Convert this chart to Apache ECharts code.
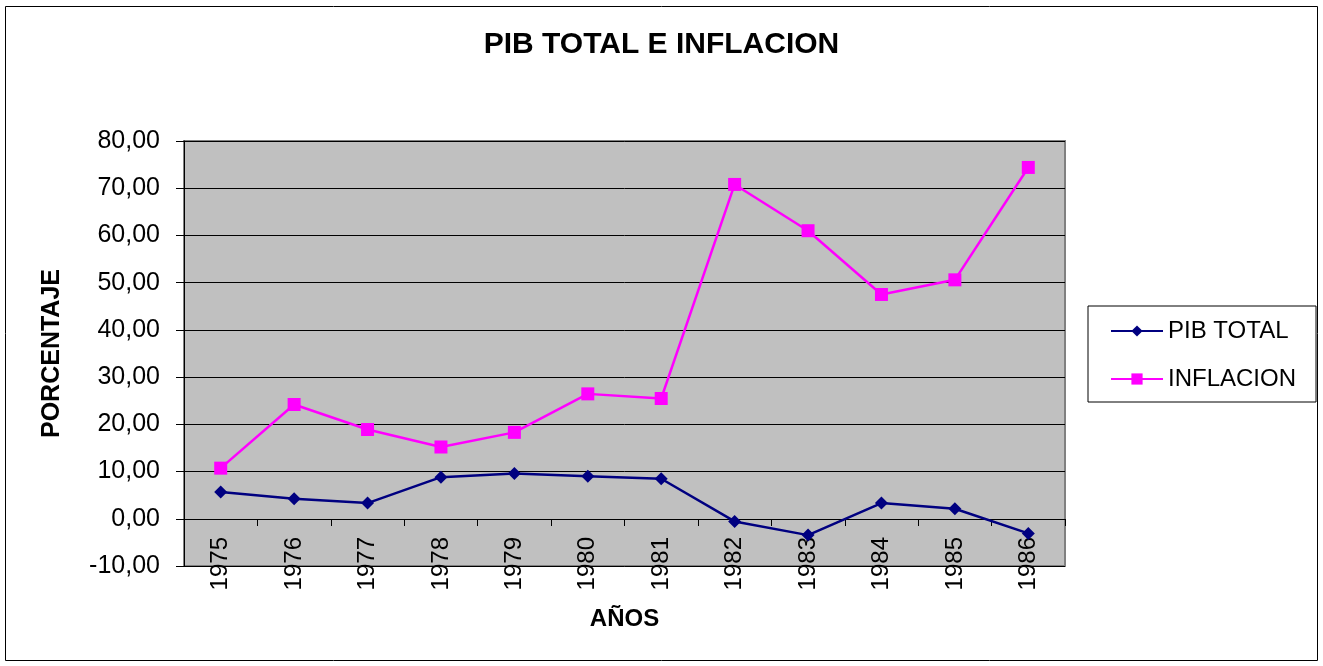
<!DOCTYPE html>
<html>
<head>
<meta charset="utf-8">
<title>PIB TOTAL E INFLACION</title>
<script src="https://cdn.jsdelivr.net/npm/echarts@6/dist/echarts.min.js"></script>
<style>
  html, body { margin: 0; padding: 0; background: #ffffff; }
  #chart { width: 1323px; height: 666px; }
</style>
</head>
<body>
<div id="chart"></div>
<script>
  // datos
  const years = ['1975', '1976', '1977', '1978', '1979', '1980', '1981', '1982', '1983', '1984', '1985', '1986'];
  const pibTotal = [5.65, 4.23, 3.32, 8.82, 9.6, 9.03, 8.47, -0.56, -3.46, 3.32, 2.12, -3.1];
  const inflacion = [10.72, 24.2, 18.9, 15.2, 18.3, 26.45, 25.47, 70.8, 61.0, 47.5, 50.6, 74.4];
  const yTicks = [-10, 0, 10, 20, 30, 40, 50, 60, 70, 80];

  const fontName = 'Arial, "Liberation Sans", sans-serif';
  const chart = echarts.init(document.getElementById('chart'));

  chart.setOption({
    animation: false,
    title: {
      text: 'PIB TOTAL E INFLACION',
      left: 'center',
      top: 25,
      textStyle: {
        color: '#000',
        fontFamily: fontName,
        fontWeight: 'bold',
        fontSize: 30
      }
    },
    graphic: [{
      type: 'rect',
      shape: { x: 5.5, y: 6.5, width: 1312, height: 654 },
      style: { fill: 'none', stroke: '#000', lineWidth: 1 },
      silent: true
    }],
    legend: {
      orient: 'vertical',
      left: 1088,
      top: 306,
      padding: [13, 20, 11, 22],
      itemGap: 24,
      itemWidth: 52,
      itemHeight: 14,
      borderColor: '#000',
      borderWidth: 1,
      backgroundColor: '#fff',
      textStyle: {
        color: '#000',
        fontFamily: fontName,
        fontSize: 24
      },
      data: ['PIB TOTAL', 'INFLACION']
    },
    grid: {
      left: 184,
      top: 141,
      right: 258,
      bottom: 100,
      outerBoundsMode: 'none',
      containLabel: false,
      show: true,
      backgroundColor: '#c0c0c0',
      borderColor: '#808080',
      borderWidth: 2
    },
    xAxis: {
      type: 'category',
      data: years,
      boundaryGap: true,
      // el eje se dibuja sobre la linea del 0
      offset: -47,
      name: 'AÑOS',
      nameLocation: 'middle',
      nameGap: 88,
      nameTextStyle: {
        color: '#000',
        fontFamily: fontName,
        fontWeight: 'bold',
        fontSize: 24
      },
      axisLine: {
        onZero: false,
        lineStyle: { color: '#000', width: 1 }
      },
      axisTick: {
        show: true,
        inside: false,
        length: 7,
        alignWithLabel: false,
        lineStyle: { color: '#000' }
      },
      axisLabel: {
        rotate: 90,
        margin: 18,
        interval: 0,
        color: '#000',
        fontFamily: fontName,
        fontSize: 24
      },
      splitLine: { show: false }
    },
    yAxis: {
      type: 'value',
      min: yTicks[0],
      max: yTicks[yTicks.length - 1],
      interval: 10,
      name: 'PORCENTAJE',
      nameLocation: 'middle',
      nameGap: 119,
      nameRotate: 90,
      nameTextStyle: {
        color: '#000',
        fontFamily: fontName,
        fontWeight: 'bold',
        fontSize: 25
      },
      axisLine: {
        show: true,
        lineStyle: { color: '#000', width: 1 }
      },
      axisTick: {
        show: true,
        length: 8,
        lineStyle: { color: '#000' }
      },
      axisLabel: {
        margin: 24,
        color: '#000',
        fontFamily: fontName,
        fontSize: 25,
        formatter: function (v) {
          return v.toFixed(2).replace('.', ',');
        }
      },
      splitLine: {
        show: true,
        lineStyle: { color: '#000', width: 1 }
      }
    },
    series: [
      {
        name: 'PIB TOTAL',
        type: 'line',
        data: pibTotal,
        symbol: 'diamond',
        symbolSize: 13,
        color: '#000080',
        lineStyle: { color: '#000080', width: 2.5 },
        itemStyle: { color: '#000080' }
      },
      {
        name: 'INFLACION',
        type: 'line',
        data: inflacion,
        symbol: 'rect',
        symbolSize: 13,
        color: '#ff00ff',
        lineStyle: { color: '#ff00ff', width: 2.5 },
        itemStyle: { color: '#ff00ff' }
      }
    ]
  });
</script>
</body>
</html>
